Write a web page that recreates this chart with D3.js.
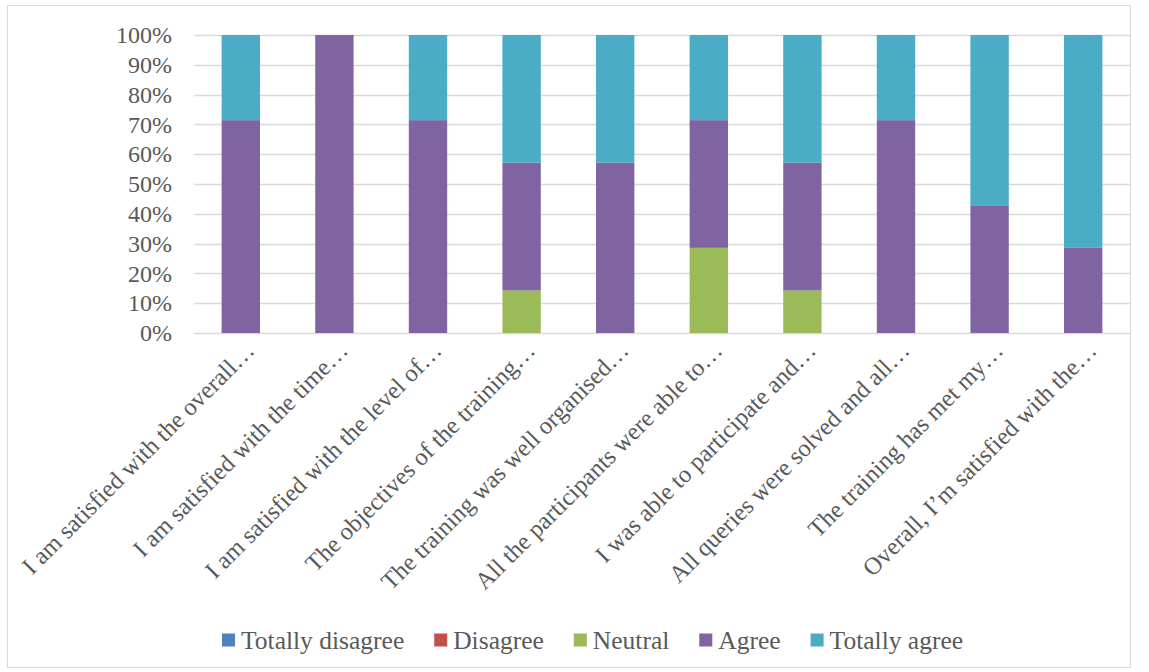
<!DOCTYPE html>
<html>
<head>
<meta charset="utf-8">
<script src="https://cdn.jsdelivr.net/npm/d3@7"></script>
<style>
  html, body { margin: 0; padding: 0; background: #fff; }
  svg { display: block; }
  text { font-family: "Liberation Serif", "DejaVu Serif", serif; fill: #595959; }
</style>
</head>
<body>
<svg id="chart" width="1149" height="672"></svg>
<script>
// Survey statements (truncated as shown on the axis)
const categories = [
  "I am satisfied with the overall…",
  "I am satisfied with the time…",
  "I am satisfied with the level of…",
  "The objectives of the training…",
  "The training was well organised…",
  "All the participants were able to…",
  "I was able to participate and…",
  "All queries were solved and all…",
  "The training has met my…",
  "Overall, I’m satisfied with the…"
];

// Response share per statement, in percent
const totallyDisagree = [0, 0, 0, 0, 0, 0, 0, 0, 0, 0];
const disagree        = [0, 0, 0, 0, 0, 0, 0, 0, 0, 0];
const neutral         = [0, 0, 0, 14.29, 0, 28.57, 14.29, 0, 0, 0];
const agree           = [71.43, 100, 71.43, 42.86, 57.14, 42.86, 42.86, 71.43, 42.86, 28.57];
const totallyAgree    = [28.57, 0, 28.57, 42.86, 42.86, 28.57, 42.86, 28.57, 57.14, 71.43];

const seriesNames = ["Totally disagree", "Disagree", "Neutral", "Agree", "Totally agree"];
const seriesColors = ["#4f81bd", "#c0504d", "#9bbb59", "#8064a2", "#4bacc6"];
const yTicks = [0, 10, 20, 30, 40, 50, 60, 70, 80, 90, 100];

const seriesValues = [totallyDisagree, disagree, neutral, agree, totallyAgree];
const rows = categories.map((c, i) => {
  const r = { category: c };
  seriesNames.forEach((s, k) => { r[s] = seriesValues[k][i]; });
  return r;
});

const svg = d3.select("#chart");

// outer chart frame
svg.append("rect")
  .attr("x", 7.5).attr("y", 5.5)
  .attr("width", 1123).attr("height", 662)
  .attr("fill", "#fff").attr("stroke", "#d9d9d9").attr("stroke-width", 1);

const plot = { left: 194, right: 1130, top: 35, bottom: 333 };

const x = d3.scaleBand()
  .domain(categories)
  .range([plot.left, plot.right])
  .paddingInner(0.59)
  .paddingOuter(0.295);

const y = d3.scaleLinear()
  .domain([0, 100])
  .range([plot.bottom, plot.top]);

// horizontal gridlines
svg.append("g")
  .selectAll("line")
  .data(yTicks)
  .join("line")
  .attr("x1", plot.left).attr("x2", plot.right)
  .attr("y1", d => Math.round(y(d)) + 0.5)
  .attr("y2", d => Math.round(y(d)) + 0.5)
  .attr("stroke", "#d9d9d9").attr("stroke-width", 1.3);

// y axis labels
const yAxis = d3.axisLeft(y).tickValues(yTicks).tickFormat(d => d + "%").tickSize(0).tickPadding(22);
const gy = svg.append("g").attr("transform", `translate(${plot.left},0)`).call(yAxis);
gy.select(".domain").remove();
gy.selectAll("text")
  .style("font-family", "'Liberation Serif', serif")
  .style("font-size", "24px")
  .attr("fill", "#595959");

// stacked bars
const stack = d3.stack().keys(seriesNames);
const layers = stack(rows);

svg.append("g")
  .selectAll("g")
  .data(layers)
  .join("g")
  .attr("fill", (d, i) => seriesColors[i])
  .selectAll("rect")
  .data(d => d.filter(p => p[1] - p[0] > 0))
  .join("rect")
  .attr("x", d => x(d.data.category))
  .attr("width", x.bandwidth())
  .attr("y", d => y(d[1]))
  .attr("height", d => y(d[0]) - y(d[1]));

// rotated category labels
const xAxis = d3.axisBottom(x).tickSize(0).tickPadding(0);
const gx = svg.append("g").attr("transform", `translate(0,${plot.bottom})`).call(xAxis);
gx.select(".domain").remove();
gx.selectAll("text")
  .style("font-family", "'Liberation Serif', serif")
  .style("font-size", "24.5px")
  .attr("fill", "#595959")
  .attr("text-anchor", "end")
  .attr("y", 0)
  .attr("dy", 0)
  .attr("transform", "translate(15,19) rotate(-45)");

// legend: swatch + label, laid out left to right from measured text widths
const legendStart = 222, legendY = 640, swatch = 13, swatchGap = 6, itemGap = 30;
const legend = svg.append("g");
let cursor = legendStart;
seriesNames.forEach((name, i) => {
  const g = legend.append("g").attr("transform", `translate(${cursor},${legendY})`);
  g.append("rect")
    .attr("x", 0).attr("y", -swatch / 2)
    .attr("width", swatch).attr("height", swatch)
    .attr("fill", seriesColors[i]);
  const t = g.append("text")
    .attr("x", swatch + swatchGap).attr("y", 8.5)
    .style("font-size", "25.5px")
    .text(name);
  cursor += swatch + swatchGap + t.node().getComputedTextLength() + itemGap;
});
</script>
</body>
</html>
